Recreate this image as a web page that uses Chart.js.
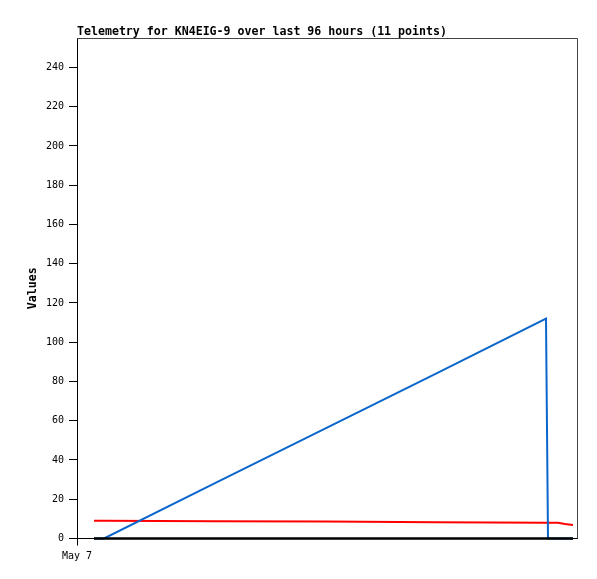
<!DOCTYPE html>
<html>
<head>
<meta charset="utf-8">
<script src="https://cdn.jsdelivr.net/npm/chart.js@4.4.0/dist/chart.umd.min.js"></script>
<style>
  html, body { margin: 0; padding: 0; background: #fff; }
  canvas { display: block; }
</style>
</head>
<body>
<canvas id="telemetryChart" width="597" height="579"></canvas>
<script>
// hours since start of window
const times = [3.4, 5.4, 27.4, 49.6, 71.8, 93.8, 94.0, 94.2, 96.2, 97.6, 99.2];
const blueValues = [0, 0, 28, 56, 84, 112, 56, 0, 0, 0, 0];
const redValues = [9.1, 9.1, 8.8, 8.6, 8.3, 8.0, 8.0, 8.0, 8.0, 7.4, 6.9];
const blackValues = [0, 0, 0, 0, 0, 0, 0, 0, 0, 0, 0];
const xTickLabels = ['May 7'];
const chartTitle = 'Telemetry for KN4EIG-9 over last 96 hours (11 points)';
const yTitle = 'Values';

const mono = '"DejaVu Sans Mono", "Liberation Mono", monospace';

function toPoints(values) {
    return values.map((v, i) => ({ x: times[i], y: v }));
}

// title, y label and the grey frame
const decorations = {
    id: 'decorations',
    afterDatasetsDraw(chart) {
        const { ctx, chartArea } = chart;
        ctx.save();
        ctx.strokeStyle = '#444';
        ctx.lineWidth = 1;
        ctx.beginPath();
        ctx.moveTo(chartArea.left, chartArea.top + 0.5);
        ctx.lineTo(chartArea.right + 0.5, chartArea.top + 0.5);
        ctx.lineTo(chartArea.right + 0.5, chartArea.bottom);
        ctx.stroke();

        ctx.fillStyle = '#000';
        ctx.font = 'bold 11.6px ' + mono;
        ctx.textBaseline = 'alphabetic';
        ctx.textAlign = 'left';
        ctx.fillText(chartTitle, chartArea.left, 35);

        ctx.translate(36, (chartArea.top + chartArea.bottom) / 2);
        ctx.rotate(-Math.PI / 2);
        ctx.textAlign = 'center';
        ctx.font = 'bold 11.6px ' + mono;
        ctx.fillText(yTitle, 0, 0);
        ctx.restore();
    }
};

const ctx = document.getElementById('telemetryChart').getContext('2d');
new Chart(ctx, {
    type: 'line',
    data: {
        datasets: [
            { data: toPoints(blackValues), borderColor: '#000000', borderWidth: 2.5, order: 1, clip: false },
            { data: toPoints(blueValues), borderColor: '#0a66cc', borderWidth: 2, order: 2, clip: false },
            { data: toPoints(redValues), borderColor: '#ff0000', borderWidth: 2, order: 3, clip: false }
        ]
    },
    options: {
        responsive: false,
        animation: false,
        events: [],
        elements: { point: { radius: 0 }, line: { tension: 0 } },
        layout: { padding: { top: 38, right: 20, left: 0, bottom: 0 } },
        plugins: { legend: { display: false }, tooltip: { enabled: false } },
        scales: {
            x: {
                type: 'linear',
                min: 0,
                max: 100,
                afterBuildTicks: scale => { scale.ticks = [{ value: 0 }]; },
                afterFit: scale => { scale.height = 40.5; },
                ticks: {
                    color: '#000',
                    font: { family: mono, size: 10 },
                    padding: 5,
                    maxRotation: 0,
                    callback: (v, i) => xTickLabels[i]
                },
                grid: { drawOnChartArea: false, color: '#000', tickLength: 7 },
                border: { color: '#000', width: 1 }
            },
            y: {
                min: 0,
                max: 255,
                afterBuildTicks: scale => {
                    scale.ticks = scale.ticks.filter(t => t.value % 20 === 0);
                },
                afterFit: scale => { scale.width = 77; },
                ticks: {
                    stepSize: 20,
                    color: '#000',
                    font: { family: mono, size: 10 },
                    padding: 5
                },
                grid: { drawOnChartArea: false, color: '#000', tickLength: 8 },
                border: { color: '#000', width: 1 }
            }
        }
    },
    plugins: [decorations]
});
</script>
</body>
</html>
